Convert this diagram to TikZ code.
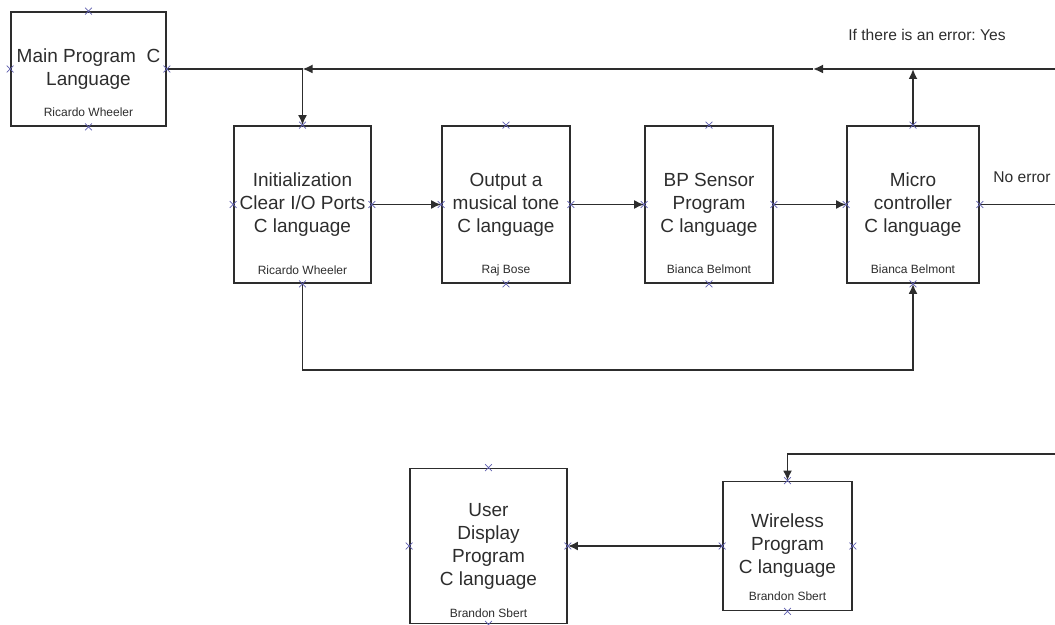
\documentclass[tikz,border=0pt]{standalone}
\usepackage{fontspec}
\setmainfont{Liberation Sans}
\usetikzlibrary{arrows.meta}
\usetikzlibrary{shapes.misc}
\definecolor{linegray}{RGB}{45,45,45}
\definecolor{crossblue}{RGB}{95,95,175}
\frenchspacing

\tikzset{
	prog/.style={draw=linegray, line width=0.9pt, rectangle, align=center, text=linegray, inner sep=0pt, font=\fontsize{9.5}{11.5}\selectfont},
	author/.style={text=linegray, inner sep=0pt, font=\fontsize{6}{7}\selectfont},
	conn/.style={draw=linegray, line width=0.9pt},
	tip/.style={conn, -{Latex[length=5pt,width=4.5pt]}},
	xmark/.style={cross out, draw=crossblue, line width=0.4pt, minimum size=3pt, inner sep=0pt},
}

\begin{document}
\begin{tikzpicture}[x=0.5pt, y=-0.5pt]
	\useasboundingbox (0,0) rectangle (1055,625);
				% top row
	\node[prog, minimum width=77.5pt, minimum height=57pt] (main) at (88.5,69) {Main Program~~C\\Language};
	\node[author] (mainby) at (88.5,112) {Ricardo Wheeler};
	\node[prog, minimum width=68.5pt, minimum height=78.5pt] (init) at (302.5,204.5) {Initialization\\Clear I/O Ports\\C language};
	\node[author] (initby) at (302.5,270) {Ricardo Wheeler};
	\node[prog, minimum width=64pt, minimum height=78.5pt] (tone) at (506,204.5) {Output a\\musical tone\\C language};
	\node[author] (toneby) at (506,270) {Raj Bose};
	\node[prog, minimum width=64pt, minimum height=78.5pt] (bp) at (709,204.5) {BP Sensor\\Program\\C language};
	\node[author] (bpby) at (709,269) {Bianca Belmont};
	\node[prog, minimum width=66pt, minimum height=78.5pt] (micro) at (913,204.5) {Micro\\controller\\C language};
	\node[author] (microby) at (913,269) {Bianca Belmont};
				% bottom row
	\node[prog, minimum width=78.5pt, minimum height=77.5pt] (user) at (488.5,546) {User\\Display\\Program\\C language};
	\node[author] (userby) at (488.5,613) {Brandon Sbert};
	\node[prog, minimum width=64.5pt, minimum height=64.5pt] (wireless) at (787.5,546) {Wireless\\Program\\C language};
	\node[author] (wirelessby) at (787.5,596) {Brandon Sbert};
				% labels
	\node[text=linegray, font=\fontsize{7.8}{9}\selectfont] (yes) at (927,35) {If there is an error: Yes};
	\node[text=linegray, font=\fontsize{7.8}{9}\selectfont] (noerr) at (1022,177) {No error};
				% error loop on top
	\coordinate (topR) at (1055,69);
	\coordinate (topMid) at (813,69);
	\coordinate (jTop) at (init.north |- main.east);
	\coordinate (jMicro) at (micro.north |- main.east);
	\draw[tip] (topR) -- (topMid);
	\draw[tip] (topMid) -- (jTop);
	\draw[conn] (jTop) -- (main.east);
	\draw[tip] (jTop) -- (init.north);
	\draw[tip] (micro.north) -- (jMicro);
				% chain
	\draw[tip] (init.east) -- (tone.west);
	\draw[tip] (tone.east) -- (bp.west);
	\draw[tip] (bp.east) -- (micro.west);
	\coordinate (noR) at (1055,204.5);
	\draw[conn] (micro.east) -- (noR);
	\draw[tip] (init.south) -- ++(0,86) -| (micro.south);
				% wireless to display
	\coordinate (wR) at (1055,454);
	\draw[tip] (wR) -| (wireless.north);
	\draw[tip] (wireless.west) -- (user.east);
				% connection marks
	\foreach \b in {main,init,tone,bp,micro,user,wireless}
		\foreach \a in {north,south,east,west}
			\node[xmark] at (\b.\a) {};
\end{tikzpicture}
\end{document}
